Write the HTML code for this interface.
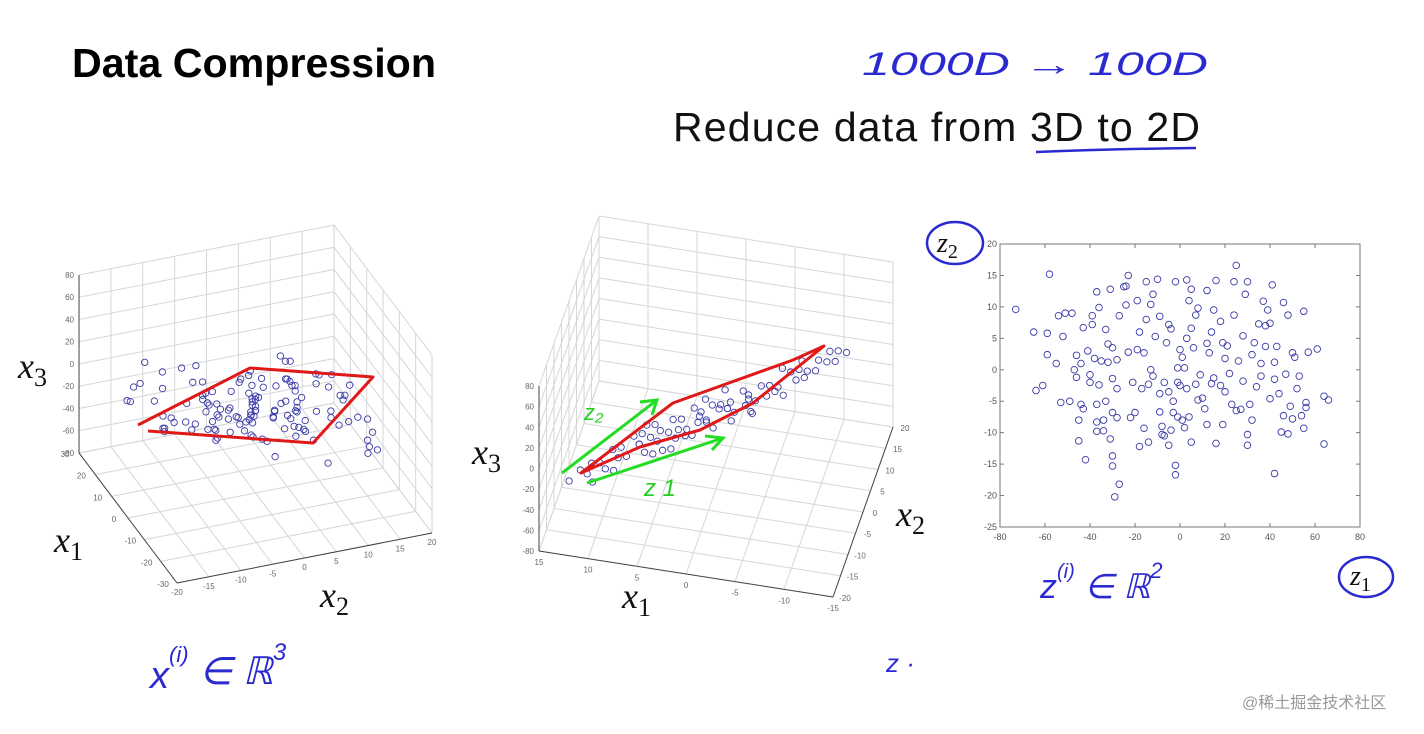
<!DOCTYPE html>
<html><head><meta charset="utf-8"><style>
html,body{margin:0;padding:0;background:#fff;}
svg{display:block;}
.tk{font-family:"Liberation Sans",sans-serif;font-size:8px;fill:#666;}
.tk2{font-family:"Liberation Sans",sans-serif;font-size:9px;fill:#555;}
.math{font-family:"Liberation Serif",serif;font-style:italic;fill:#111;}
.hand{font-family:"Liberation Sans",sans-serif;font-style:italic;fill:#2a2ad0;}
</style></head><body>
<svg id="slide" width="1424" height="734" viewBox="0 0 1424 734" xmlns="http://www.w3.org/2000/svg">
<rect width="1424" height="734" fill="#fff"/>
<text x="72" y="77" font-family="Liberation Sans, sans-serif" font-weight="bold" font-size="41" textLength="364" lengthAdjust="spacingAndGlyphs" fill="#000">Data Compression</text>
<text class="hand" x="862" y="75" font-size="32" textLength="346" lengthAdjust="spacingAndGlyphs">1000D  →  100D</text>
<text x="673" y="141" font-family="Liberation Sans, sans-serif" font-size="41" textLength="527" fill="#111">Reduce data from 3D to 2D</text>
<path d="M1036,152 Q1110,149 1196,148" stroke="#2a2ad0" stroke-width="2.5" fill="none"/>

<g id="left3d"></g>
<g id="mid3d"></g>
<g id="right2d"></g>

<path d="M148,431 L313,443 L373,377 L250,368 L138,425" stroke="#e01818" stroke-width="3" fill="none" stroke-linejoin="round"/>
<path d="M581,473 L673,403 L793,360 L824,346 L753,403 L700,430 L640,447 Z" stroke="#e01818" stroke-width="3" fill="none" stroke-linejoin="round"/>
<path d="M562,473 L657,400 M640,402 L657,400 L652,415" stroke="#22dd22" stroke-width="3" fill="none"/>
<path d="M587,483 L723,438 M705,436 L723,438 L712,450" stroke="#22dd22" stroke-width="3" fill="none"/>
<text x="584" y="420" font-family="Liberation Sans, sans-serif" font-style="italic" font-size="22" fill="#22cc22">z₂</text>
<text x="644" y="496" font-family="Liberation Sans, sans-serif" font-style="italic" font-size="24" fill="#22cc22">z 1</text>

<text class="math" x="18" y="378" font-size="36">x<tspan font-size="26" dy="8" font-style="normal">3</tspan></text>
<text class="math" x="54" y="552" font-size="36">x<tspan font-size="26" dy="8" font-style="normal">1</tspan></text>
<text class="math" x="320" y="607" font-size="36">x<tspan font-size="26" dy="8" font-style="normal">2</tspan></text>
<text class="math" x="472" y="464" font-size="36">x<tspan font-size="26" dy="8" font-style="normal">3</tspan></text>
<text class="math" x="622" y="608" font-size="36">x<tspan font-size="26" dy="8" font-style="normal">1</tspan></text>
<text class="math" x="896" y="526" font-size="36">x<tspan font-size="26" dy="8" font-style="normal">2</tspan></text>

<ellipse cx="955" cy="243" rx="28" ry="21" stroke="#2a2ad0" stroke-width="2.5" fill="none"/>
<text class="math" x="937" y="252" font-size="28">z<tspan font-size="20" dy="6" font-style="normal">2</tspan></text>
<ellipse cx="1366" cy="577" rx="27" ry="20" stroke="#2a2ad0" stroke-width="2.5" fill="none"/>
<text class="math" x="1350" y="585" font-size="28">z<tspan font-size="20" dy="6" font-style="normal">1</tspan></text>

<text class="hand" x="1040" y="598" font-size="34">z<tspan font-size="20" dy="-20">(i)</tspan><tspan dy="20"> ∈ ℝ</tspan><tspan font-size="22" dy="-20">2</tspan></text>
<text class="hand" x="150" y="688" font-size="38">x<tspan font-size="22" dy="-26">(i)</tspan><tspan dy="22"> ∈ ℝ</tspan><tspan font-size="24" dy="-24">3</tspan></text>
<text class="hand" x="886" y="672" font-size="26">z ·</text>
<text x="1242" y="708" font-family="Liberation Sans, Noto Sans CJK SC, sans-serif" font-size="16" fill="#999">@稀土掘金技术社区</text>
</svg>
<script>
// ---- Right 2D scatter data ----
const z1Vals=[-73,-65,-64,-61,-59,-59,-58,-55,-54,-53,-52,-51,-49,-48,-47,-46,-46,-45,-45,-44,-44,-43,-43,-42,-41,-40,-40,-39,-39,-38,-37,-37,-37,-37,-36,-36,-35,-34,-34,-33,-33,-32,-32,-31,-31,-30,-30,-30,-30,-30,-29,-28,-28,-28,-27,-27,-25,-24,-24,-23,-23,-22,-21,-20,-19,-19,-18,-18,-17,-16,-16,-15,-15,-14,-14,-13,-13,-12,-12,-11,-10,-9,-9,-9,-8,-8,-7,-7,-6,-5,-5,-5,-4,-4,-3,-3,-2,-2,-2,-1,-1,-1,0,0,1,1,2,2,3,3,3,4,4,5,5,5,6,7,7,8,8,9,10,11,12,12,12,13,14,14,15,15,16,16,18,18,19,19,20,20,21,22,23,24,24,25,25,26,27,28,28,29,30,30,30,31,32,32,33,34,35,36,36,37,38,38,39,40,40,41,42,42,42,43,44,45,46,46,47,48,48,49,50,50,51,52,53,54,55,55,56,56,57,61,64,64,66];
const z2Vals=[9.6,6,-3.3,-2.5,2.4,5.8,15.2,1,8.6,-5.2,5.3,9,-5,9,0,-1.2,2.3,-8,-11.3,-5.5,1,-6.2,6.7,-14.3,3,-2,-0.8,7.2,8.6,1.8,12.4,-5.5,-8.3,-9.8,9.9,-2.4,1.4,-9.7,-8,-5,6.4,4.1,1.2,-11,12.8,-6.8,3.5,-1.4,-13.7,-15.3,-20.2,-7.6,-3,1.6,8.6,-18.2,13.2,10.3,13.3,2.8,15,-7.6,-2,-6.8,11,3.2,6,-12.2,-3,2.7,-9.3,14,8,-2.3,-11.5,0,10.4,-1,12,5.3,14.4,8.5,-3.8,-6.7,-9,-10.3,-2,-10.5,4.3,7.2,-3.5,-12,6.5,-9.6,-6.8,-5,-15.2,-16.7,14,0.3,-2,-7.5,3.2,-2.5,-8,2,0.3,-9.2,5,-3,14.3,-7.5,11,12.8,6.6,-11.5,3.5,-2.3,8.7,9.8,-4.8,-0.8,-4.5,-6.2,4.2,-8.7,12.6,2.7,-2.2,6,9.5,-1.3,14.2,-11.7,-2.5,7.7,4.3,-8.7,1.8,-3.5,3.8,-0.6,-5.5,14,8.7,-6.5,16.6,1.4,-6.3,5.4,-1.8,12,-10.3,14,-12,-5.5,2.4,-8,4.3,-2.7,7.3,1,-1,10.9,3.7,7,9.5,-4.6,7.4,13.5,1.2,-1.5,-16.5,3.7,-3.8,-9.9,-7.3,10.7,-0.7,8.7,-10.2,-5.8,-7.8,2.7,2,-3,-1,-7.3,-9.3,9.3,-5.2,-6,2.8,3.3,-11.8,-4.2,-4.8];
const z1Ticks=[-80,-60,-40,-20,0,20,40,60,80];
const z2Ticks=[20,15,10,5,0,-5,-10,-15,-20,-25];

// ---- Left 3D scatter data (x1, x2, x3) ----
const lx1=[20,18,15,12,10,8,5,3,0,-2,-5,-8,-10,-12,-15,-18,-20,22,16,14,11,7,4,1,-3,-6,-9,-13,-16,-19,19,17,13,9,6,2,-1,-4,-7,-11,-14,-17,-21,24,21,15,10,5,0,-5,-10,-15,-22,12,8,3,-2,-6,-12,-3,2,6,-8,14,-16,9,0,-4,4,-10,18,-18,7,-7,1,11,-11,16,-14,5,
 6,4,2,0,-2,-4,-6,8,-8,5,3,1,-1,-3,-5,7,-7,9,-9,2,0,-2,4,-4,6,-6,3,-3,1,-1,10,-10,5,-5,0,7,-7,2,-2,4,-4,8,-8,3,-3,6,-6,1,-1,0];
const lx2=[-14,-10,-4,2,8,14,-13,-6,0,6,12,14,-12,-2,4,10,14,-14,-14,-8,-1,5,11,14,-14,-9,-3,3,9,13,-11,-5,1,7,13,-14,-7,-1,5,9,14,14,6,-14,-12,-6,0,6,-10,-4,2,8,12,-3,3,-12,9,-8,0,14,-14,11,-13,-11,5,-6,4,13,-2,7,10,-5,-9,1,-14,2,-1,8,14,-7,
 -6,-3,0,3,6,-5,-2,1,4,7,-7,-4,-1,2,5,8,-8,-6,-3,0,3,6,-5,-2,1,4,7,-7,-4,-1,2,5,-6,-3,0,3,6,-5,-2,1,4,7,-8,8,-1,2,-4,5,-6,0];
const lx3=[-8,5,-15,0,10,-5,-20,12,-2,-10,4,-12,15,-6,0,8,-18,-25,3,14,-9,-3,6,-14,9,-1,11,-7,2,-16,-22,7,-4,13,-11,1,-6,16,-13,5,-2,-8,-19,-28,10,-3,0,6,-12,2,-5,8,-15,-20,4,-9,12,-2,-24,7,-10,3,14,-1,-7,9,-4,1,-17,5,-26,11,-3,0,-8,6,-11,3,-21,2,
 -4,-8,-2,-10,-6,-12,-3,-7,-9,-1,-5,-11,-4,-8,-2,-6,-10,-3,-7,-5,-9,-1,-12,-4,-8,-6,-2,-10,-3,-7,-5,-9,-4,-11,-6,-2,-8,-3,-10,-5,-7,-1,-6,-9,-4,-8,-2,-5,-3,-6];
const lTicks3=[80,60,40,20,0,-20,-40,-60,-80];
const lTicks1=[30,20,10,0,-10,-20,-30];
const lTicks2=[-20,-15,-10,-5,0,5,10,15,20];

// ---- Middle 3D scatter data ----
const mx1=[13,12,11,11,10,9,9,8,8,7,7,6,6,5,5,4,4,3,3,2,2,1,1,0,0,0,-1,-1,-2,-2,-3,-3,-4,-4,-5,-5,-6,-6,-7,-7,-8,-8,-9,-9,-10,-10,-11,-11,-12,-12,-13,-13,-14,-14,-15,10,6,2,-2,-6,-10,4,-4,0,8,-8,1,-1,3,-3,5,-5,2,-2,0,6,-6];
const mx2=[-13,-12,-11,-14,-12,-10,-15,-13,-11,-9,-14,-12,-10,-8,-15,-13,-11,-9,-16,-12,-10,-8,-14,-12,-10,-16,-9,-13,-11,-15,-10,-12,-8,-14,-11,-13,-9,-15,-12,-10,-11,-13,-9,-14,-12,-10,-11,-13,-12,-10,-11,-9,-12,-10,-11,-17,-7,-17,-7,-16,-8,-16,-16,-7,-16,-8,-13,-13,-12,-12,-11,-11,-14,-10,-11,-12,-13];
const mx3=[-38,-30,-26,-24,-20,-14,-12,-8,-6,-2,-1,4,6,8,10,14,16,20,19,24,26,30,28,34,36,38,40,42,46,44,50,52,54,58,60,62,66,64,70,72,76,80,84,82,90,92,96,98,102,104,108,110,114,116,120,-18,2,26,48,70,92,14,58,36,-8,82,30,40,20,52,8,64,24,46,36,4,68];
const mTicks3=[80,60,40,20,0,-20,-40,-60,-80];
const mTicks1=[15,10,5,0,-5,-10,-15];
const mTicks2=[-20,-15,-10,-5,0,5,10,15,20];

const NS="http://www.w3.org/2000/svg";
function mk(parent,tag,attrs){const e=document.createElementNS(NS,tag);for(const k in attrs)e.setAttribute(k,attrs[k]);parent.appendChild(e);return e;}

function makeProj(o,r1,r2,u1,u2,u3){
  return (a,b,c)=>[o[0]+(a-r1)*u1[0]+(b-r2)*u2[0], o[1]+(a-r1)*u1[1]+(b-r2)*u2[1]+(c+80)*u3];
}
function line(g,p,q,col,w){return mk(g,'line',{x1:p[0],y1:p[1],x2:q[0],y2:q[1],stroke:col,'stroke-width':w});}

function draw3D(g,P,ax1,ax2,ax3,wall1,wall2,t1,t2,t3,X1,X2,X3,lab){
  const gc='#d6d6d6';
  const a1=[Math.min(...t1),Math.max(...t1)],a2=[Math.min(...t2),Math.max(...t2)];
  t1.forEach(v=>{const l=line(g,P(v,a2[0],-80),P(v,a2[1],-80),gc,1);});
  t2.forEach(v=>{const l=line(g,P(a1[0],v,-80),P(a1[1],v,-80),gc,1);});
  t2.forEach(v=>{const l=line(g,P(wall1,v,-80),P(wall1,v,80),gc,1);});
  t3.forEach(v=>{const l=line(g,P(wall1,a2[0],v),P(wall1,a2[1],v),gc,1);});
  t1.forEach(v=>{const l=line(g,P(v,wall2,-80),P(v,wall2,80),gc,1);});
  t3.forEach(v=>{const l=line(g,P(a1[0],wall2,v),P(a1[1],wall2,v),gc,1);});
  const axc='#444';
  const za=line(g,P(ax3[0],ax3[1],-80),P(ax3[0],ax3[1],80),axc,1);
  
  const xa=line(g,P(a1[0],ax1,-80),P(a1[1],ax1,-80),axc,1);
  
  const ya=line(g,P(ax2,a2[0],-80),P(ax2,a2[1],-80),axc,1);
  
  t3.forEach(v=>{const p=P(ax3[0],ax3[1],v);const t=mk(g,'text',{x:p[0]-5,y:p[1]+3,'text-anchor':'end',class:'tk'});t.textContent=v;
    });
  t1.forEach(v=>{const p=P(v,ax1,-80);const t=mk(g,'text',{x:p[0]+lab.d1[0],y:p[1]+lab.d1[1],'text-anchor':'middle',class:'tk'});t.textContent=v;
    });
  t2.forEach(v=>{const p=P(ax2,v,-80);const t=mk(g,'text',{x:p[0]+lab.d2[0],y:p[1]+lab.d2[1],'text-anchor':'middle',class:'tk'});t.textContent=v;
    });
  const n=Math.min(X1.length,X2.length,X3.length);
  for(let i=0;i<n;i++){const p=P(X1[i],X2[i],X3[i]);const c=mk(g,'circle',{cx:p[0],cy:p[1],r:3.2,fill:'none',stroke:'#3a3aa8','stroke-width':0.9});
    }
}

const PL=makeProj([177,583],-30,-20,[-1.633,-2.167],[6.375,-1.25],-1.1125);
draw3D(document.getElementById('left3d'),PL,-20,-30,[30,-20],30,20,lTicks1,lTicks2,lTicks3,lx1,lx2,lx3,{d1:[-14,4],d2:[0,12]});

const PM=makeProj([539,551],15,-20,[-9.8,-1.533],[1.5,-4.25],-1.031);
draw3D(document.getElementById('mid3d'),PM,-20,-15,[15,-20],15,20,mTicks1,mTicks2,mTicks3,mx1,mx2,mx3,{d1:[0,14],d2:[12,4]});

(function(){
  const g=document.getElementById('right2d');
  const L=1000,R=1360,T=244,B=527;
  const xs=v=>L+(v+80)/160*(R-L), ys=v=>T+(20-v)/45*(B-T);
  const fr=mk(g,'rect',{x:L,y:T,width:R-L,height:B-T,fill:'#fff',stroke:'#777','stroke-width':1});
  
  z1Ticks.forEach(v=>{line(g,[xs(v),B],[xs(v),B-4],'#777',1);line(g,[xs(v),T],[xs(v),T+4],'#777',1);
    const t=mk(g,'text',{x:xs(v),y:B+13,'text-anchor':'middle',class:'tk2'});t.textContent=v;
    });
  z2Ticks.forEach(v=>{line(g,[L,ys(v)],[L+4,ys(v)],'#777',1);line(g,[R,ys(v)],[R-4,ys(v)],'#777',1);
    const t=mk(g,'text',{x:L-3,y:ys(v)+3,'text-anchor':'end',class:'tk2'});t.textContent=v;
    });
  z1Vals.forEach((v,i)=>{const c=mk(g,'circle',{cx:xs(v),cy:ys(z2Vals[i]),r:3.3,fill:'none',stroke:'#3a3aa8','stroke-width':0.9});
    });
})();
</script>
</body></html>
